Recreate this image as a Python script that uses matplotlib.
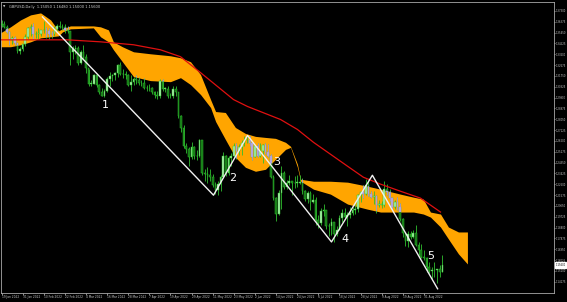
import matplotlib
matplotlib.use("Agg")
import matplotlib.pyplot as plt
import numpy as np

# GBPUSD daily bars, 19 Jan 2022 .. 9 Sep 2022
closes = [
    1.3620, 1.3595, 1.3550, 1.3480, 1.3500, 1.3460, 1.3390, 1.3405, 1.3445,
    1.3510, 1.3580, 1.3590, 1.3530, 1.3535, 1.3535, 1.3565, 1.3565, 1.3560, 1.3535,
    1.3530, 1.3575, 1.3600, 1.3590, 1.3590, 1.3570, 1.3555, 1.3375, 1.3405, 1.3415,
    1.3285, 1.3375, 1.3340, 1.3240, 1.3110, 1.3110, 1.3180, 1.3095, 1.3035, 1.3005,
    1.3045, 1.3145, 1.3175, 1.3180, 1.3200, 1.3265, 1.3195, 1.3190, 1.3185, 1.3100,
    1.3125, 1.3150, 1.3140,
    1.3115, 1.3115, 1.3070, 1.3075, 1.3070, 1.3035, 1.3015, 1.3005, 1.3130, 1.3065,
    1.3065, 1.3000, 1.3005, 1.3065, 1.3035, 1.2835, 1.2730, 1.2575, 1.2555, 1.2480,
    1.2570,
    1.2490, 1.2495, 1.2625, 1.2350, 1.2340, 1.2330, 1.2315, 1.2245, 1.2200, 1.2255,
    1.2315, 1.2490, 1.2345, 1.2475, 1.2490, 1.2575, 1.2535, 1.2570, 1.2600, 1.2625,
    1.2625, 1.2600,
    1.2485, 1.2575, 1.2490, 1.2530, 1.2585, 1.2525, 1.2495, 1.2315, 1.2130, 1.2000,
    1.2175, 1.2345, 1.2225, 1.2260, 1.2275, 1.2260, 1.2265, 1.2265, 1.2270, 1.2190,
    1.2125, 1.2175,
    1.2095, 1.2115, 1.1945, 1.1920, 1.2025, 1.2030, 1.1890, 1.1890, 1.1925, 1.1825,
    1.1860, 1.1960, 1.2005, 1.1975, 1.1990, 1.2005, 1.2030, 1.2035, 1.2155, 1.2180,
    1.2165,
    1.2245, 1.2165, 1.2145, 1.2150, 1.2075, 1.2075, 1.2075, 1.2210, 1.2185, 1.2135,
    1.2055, 1.2100, 1.2055, 1.1950, 1.1830, 1.1765, 1.1825, 1.1800, 1.1835, 1.1735,
    1.1690, 1.1630, 1.1620,
    1.1540, 1.1510, 1.1515, 1.1515, 1.1525, 1.1505, 1.1560,
]
highs = [
    1.3650, 1.3640, 1.3610, 1.3560, 1.3520, 1.3520, 1.3460, 1.3420, 1.3450,
    1.3530, 1.3590, 1.3620, 1.3630, 1.3560, 1.3580, 1.3570, 1.3643, 1.3590, 1.3580,
    1.3560, 1.3600, 1.3620, 1.3640, 1.3620, 1.3620, 1.3600, 1.3560, 1.3430, 1.3440,
    1.3430, 1.3400, 1.3440, 1.3360, 1.3230, 1.3140, 1.3190, 1.3190, 1.3110, 1.3070,
    1.3060, 1.3170, 1.3210, 1.3190, 1.3210, 1.3280, 1.3298, 1.3230, 1.3220, 1.3190,
    1.3180, 1.3170, 1.3180,
    1.3170, 1.3140, 1.3160, 1.3100, 1.3110, 1.3080, 1.3050, 1.3050, 1.3150, 1.3150,
    1.3080, 1.3090, 1.3030, 1.3090, 1.3090, 1.3040, 1.2840, 1.2760, 1.2600, 1.2570,
    1.2615,
    1.2580, 1.2540, 1.2640, 1.2630, 1.2380, 1.2400, 1.2380, 1.2340, 1.2270, 1.2280,
    1.2330, 1.2525, 1.2500, 1.2490, 1.2520, 1.2600, 1.2600, 1.2590, 1.2630, 1.2666,
    1.2660, 1.2660,
    1.2610, 1.2580, 1.2600, 1.2600, 1.2595, 1.2600, 1.2590, 1.2510, 1.2330, 1.2140,
    1.2200, 1.2406, 1.2360, 1.2290, 1.2325, 1.2280, 1.2320, 1.2325, 1.2330, 1.2300,
    1.2200, 1.2190,
    1.2190, 1.2165, 1.2140, 1.1990, 1.2045, 1.2080, 1.2020, 1.1920, 1.1960, 1.1920,
    1.1890, 1.1990, 1.2040, 1.2050, 1.2010, 1.2060, 1.2060, 1.2080, 1.2165, 1.2190,
    1.2245,
    1.2293, 1.2290, 1.2190, 1.2190, 1.2160, 1.2120, 1.2110, 1.2275, 1.2250, 1.2210,
    1.2140, 1.2120, 1.2140, 1.2090, 1.1960, 1.1840, 1.1850, 1.1850, 1.1860, 1.1900,
    1.1760, 1.1740, 1.1690,
    1.1630, 1.1590, 1.1540, 1.1590, 1.1530, 1.1560, 1.1648,
]
lows = [
    1.3590, 1.3580, 1.3540, 1.3440, 1.3450, 1.3440, 1.3370, 1.3358, 1.3390,
    1.3430, 1.3490, 1.3520, 1.3490, 1.3500, 1.3490, 1.3520, 1.3540, 1.3500, 1.3490,
    1.3500, 1.3520, 1.3560, 1.3580, 1.3570, 1.3540, 1.3540, 1.3272, 1.3320, 1.3360,
    1.3270, 1.3280, 1.3320, 1.3200, 1.3085, 1.3090, 1.3110, 1.3080, 1.3020, 1.3000,
    1.2998, 1.3040, 1.3090, 1.3130, 1.3140, 1.3170, 1.3180, 1.3160, 1.3150, 1.3090,
    1.3050, 1.3100, 1.3110,
    1.3100, 1.3090, 1.3060, 1.3050, 1.3050, 1.3020, 1.2985, 1.2975, 1.2990, 1.3050,
    1.3040, 1.2990, 1.2985, 1.2990, 1.3000, 1.2820, 1.2700, 1.2560, 1.2520, 1.2410,
    1.2470,
    1.2470, 1.2460, 1.2480, 1.2330, 1.2275, 1.2260, 1.2280, 1.2230, 1.2165, 1.2155,
    1.2190, 1.2300, 1.2320, 1.2330, 1.2410, 1.2480, 1.2470, 1.2500, 1.2500, 1.2580,
    1.2600, 1.2580,
    1.2460, 1.2480, 1.2480, 1.2480, 1.2430, 1.2510, 1.2480, 1.2300, 1.2120, 1.1934,
    1.1985, 1.2040, 1.2210, 1.2210, 1.2240, 1.2160, 1.2220, 1.2230, 1.2250, 1.2170,
    1.2110, 1.2090,
    1.2030, 1.2090, 1.1900, 1.1875, 1.1900, 1.1980, 1.1870, 1.1810, 1.1820, 1.1760,
    1.1810, 1.1860, 1.1930, 1.1960, 1.1890, 1.1960, 1.1990, 1.2000, 1.2010, 1.2100,
    1.2130,
    1.2160, 1.2150, 1.2130, 1.2080, 1.2005, 1.2060, 1.2050, 1.2060, 1.2160, 1.2110,
    1.2030, 1.2040, 1.2030, 1.1940, 1.1800, 1.1720, 1.1715, 1.1780, 1.1790, 1.1720,
    1.1650, 1.1620, 1.1600,
    1.1500, 1.1490, 1.1445, 1.1460, 1.1405, 1.1460, 1.1500,
]
first_open = 1.3610

date_ticks = list(range(0, 161, 8))
date_labels = ["19 Jan 2022", "31 Jan 2022", "10 Feb 2022", "22 Feb 2022",
               "4 Mar 2022", "16 Mar 2022", "28 Mar 2022", "7 Apr 2022",
               "19 Apr 2022", "29 Apr 2022", "11 May 2022", "23 May 2022",
               "2 Jun 2022", "14 Jun 2022", "24 Jun 2022", "6 Jul 2022",
               "18 Jul 2022", "28 Jul 2022", "9 Aug 2022", "19 Aug 2022",
               "31 Aug 2022"]

price_ticks = [1.37300, 1.36375, 1.35450, 1.34525, 1.33600, 1.32675, 1.31750,
               1.30825, 1.29900, 1.28975, 1.28050, 1.27125, 1.26200, 1.25275,
               1.24350, 1.23425, 1.22500, 1.21575, 1.20650, 1.19725, 1.18800,
               1.17875, 1.16950, 1.16025, 1.15100, 1.14175]

# ichimoku cloud edges (bar index, upper, lower)
cloud_x = [-0.4, 3.4, 7.2, 11.0, 14.8, 18.6, 21.6, 23.1, 26.1, 34.8, 37.5, 40.5,
           42.4, 45.8, 50.0, 56.4, 64.0, 67.8, 71.6, 75.4, 79.2, 81.1, 84.8,
           88.6, 92.4, 96.2, 100.0, 103.8, 107.6, 109.5, 112.1, 113.3, 118.2,
           124.6, 131.1, 138.6, 143.6, 151.1, 156.1, 159.8, 162.5, 166.3, 169.3,
           173.1, 176.5]
cloud_top = [1.3543, 1.3594, 1.3653, 1.3696, 1.3713, 1.3653, 1.3560, 1.3577,
             1.3602, 1.3602, 1.3594, 1.3568, 1.3466, 1.3424, 1.3381, 1.3364,
             1.3347, 1.3330, 1.3296, 1.3186, 1.2973, 1.2871, 1.2863, 1.2735,
             1.2684, 1.2659, 1.2650, 1.2642, 1.2608, 1.2574, 1.2421, 1.2293,
             1.2276, 1.2276, 1.2268, 1.2234, 1.2208, 1.2166, 1.2140, 1.2123,
             1.2013, 1.1996, 1.1885, 1.1843, 1.1843]
cloud_bot = [1.3424, 1.3424, 1.3441, 1.3466, 1.3500, 1.3509, 1.3517, 1.3551,
             1.3577, 1.3585, 1.3509, 1.3466, 1.3398, 1.3296, 1.3169, 1.3135,
             1.3126, 1.3160, 1.3101, 1.3016, 1.2905, 1.2786, 1.2633, 1.2480,
             1.2395, 1.2361, 1.2378, 1.2463, 1.2548, 1.2565, 1.2395, 1.2276,
             1.2208, 1.2166, 1.2081, 1.2038, 1.2013, 1.2013, 1.2013, 1.1996,
             1.1970, 1.1885, 1.1783, 1.1656, 1.1570]

# moving average
ma_x = [0, 12, 25, 37.5, 50, 60.2, 67.8, 75.4, 87.9, 93.2, 105.7, 112.1, 118.2,
        131.1, 137.1, 143.6, 151.1, 158.7, 166.3]
ma_y = [1.3483, 1.3483, 1.3483, 1.3466, 1.3441, 1.3398, 1.3339, 1.3203, 1.2973,
        1.2914, 1.2803, 1.2718, 1.2608, 1.2404, 1.2310, 1.2251, 1.2191, 1.2132,
        1.2013]

# elliott wave count
wave_x = [15.5, 80.3, 93.2, 125.0, 140.5, 165.2]
wave_y = [1.3679, 1.2157, 1.2667, 1.1758, 1.2327, 1.1358]
wave_names = ["1", "2", "3", "4", "5"]
wave_label_pos = [(39.4, 1.2931), (87.5, 1.2302), (104.2, 1.2438),
                  (130.3, 1.1783), (162.5, 1.1639)]

# %% plot
W, H = 567, 302
fig = plt.figure(figsize=(W / 100, H / 100), dpi=100, facecolor="black")
ax = fig.add_axes([1 / W, 9 / H, 553 / W, 291 / H], facecolor="black")

c = np.array(closes)
h = np.array(highs)
l = np.array(lows)
o = np.array([first_open] + closes[:-1])
x = np.arange(len(c))
up = c >= o
body_lo = np.minimum(o, c)
body_h = np.maximum(np.abs(c - o), 0.0003)

cloud = ax.fill_between(cloud_x, cloud_bot, cloud_top, color="#ffa500", lw=0, zorder=2)

wick = "#2fbf2f"
ax.vlines(x, l, h, color=wick, lw=0.6, zorder=3)
ax.bar(x, body_h, bottom=body_lo, width=0.62,
       color=np.where(up, "#b4f5b4", "#127012"), edgecolor=wick, lw=0.35, zorder=3)

# bearish bars sitting inside the cloud show up lilac
clip = cloud.get_paths()[0]
dn = ~up
wl = ax.vlines(x[dn], l[dn], h[dn], color="#a898d8", lw=0.6, zorder=4)
wl.set_clip_path(clip, ax.transData)
bb = ax.bar(x[dn], body_h[dn], bottom=body_lo[dn], width=0.62,
            color="#b8a8e0", edgecolor="#a898d8", lw=0.35, zorder=4)
for p in bb.patches:
    p.set_clip_path(clip, ax.transData)

ax.plot(ma_x, ma_y, color="#e01010", lw=0.9, zorder=5)
ax.plot(wave_x, wave_y, color="#f0f0f0", lw=1.0, zorder=6)
for name, (bx, by) in zip(wave_names, wave_label_pos):
    ax.text(bx, by, name, color="white", fontsize=8, ha="center", va="center", zorder=7)

ax.set_xlim(-0.2, 209.3)
ax.set_ylim(1.1322, 1.3806)

ax.set_xticks(date_ticks)
ax.set_xticklabels(date_labels, ha="left")
ax.yaxis.tick_right()
ax.set_yticks(price_ticks)
ax.set_yticklabels([f"{v:.5f}" for v in price_ticks])
ax.tick_params(axis="x", colors="#c8c8c8", labelsize=2.1, length=1.2, width=0.5, pad=0.5)
ax.tick_params(axis="y", colors="#c8c8c8", labelsize=1.8, length=1.0, width=0.5, pad=0.4)
for s in ax.spines.values():
    s.set_color("#a8a8a8")
    s.set_linewidth(0.6)

ax.annotate(f"{closes[-1]:.5f}", xy=(1.0, closes[-1]), xycoords=("axes fraction", "data"),
            xytext=(1.2, 0), textcoords="offset points", fontsize=1.8, color="black",
            va="center", ha="left", annotation_clip=False,
            bbox=dict(boxstyle="square,pad=0.25", fc="white", ec="white"))

title = "GBPUSD,Daily  {:.5f} {:.5f} {:.5f} {:.5f}".format(o[-1], h[-1], l[-1], c[-1])
ax.text(0.004, 0.99, "\u25bc", transform=ax.transAxes, color="#d0d0d0",
        fontsize=2.2, va="top", ha="left")
ax.text(0.014, 0.99, title, transform=ax.transAxes, color="#d0d0d0",
        fontsize=2.6, va="top", ha="left")

fig.savefig("out.png", dpi=100, facecolor="black")
